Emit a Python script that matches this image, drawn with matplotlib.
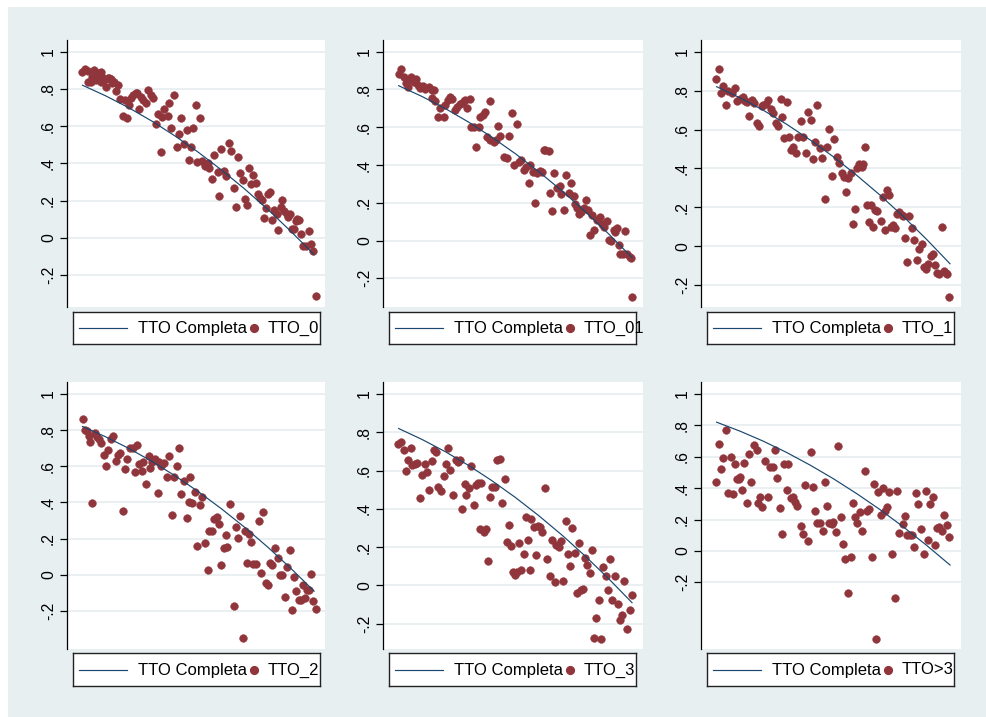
import matplotlib
matplotlib.use("Agg")
import matplotlib.pyplot as plt
from matplotlib.patches import Rectangle
from matplotlib.lines import Line2D

plt.rcParams['font.family'] = ['Liberation Sans', 'DejaVu Sans']

# ---------------- data ----------------
line_label = "TTO Completa"
line_x = [0, 10, 20, 30, 40, 50, 60, 70, 80, 90, 100]
line_y = [0.820, 0.763, 0.699, 0.627, 0.547, 0.460, 0.365, 0.263, 0.153, 0.035, -0.090]

yticks = [-0.2, 0, 0.2, 0.4, 0.6, 0.8, 1]
ytick_labels = ["-.2", "0", ".2", ".4", ".6", ".8", "1"]

series_names = ["TTO_0", "TTO_01", "TTO_1", "TTO_2", "TTO_3", "TTO>3"]

tto0_x = [-0.3, 1.0, 2.4, 3.6, 5.0, 5.8, 6.5, 7.6, 8.6, 10.1, 10.8, 12.2, 13.7, 14.4, 15.4, 16.3, 17.3, 18.3,
          19.4, 20.1, 20.9, 21.6, 23.0, 23.7, 24.5, 25.2, 25.9, 27.3, 28.1, 29.5, 30.6, 31.7, 32.4, 33.8, 34.5,
          35.3, 36.7, 37.4, 38.4, 39.6, 40.7, 41.7, 42.7, 43.9, 45.0, 46.0, 46.8, 47.5, 48.8, 49.6, 50.8, 51.8,
          52.8, 54.0, 54.7, 55.7, 56.8, 58.3, 59.1, 60.0, 60.9, 61.9, 63.3, 64.3, 65.2, 66.2, 67.2, 68.1, 69.1,
          70.1, 71.2, 71.9, 72.9, 73.8, 74.8, 75.8, 76.7, 77.7, 78.4, 79.1, 79.9, 81.0, 82.0, 82.7, 83.9, 84.5,
          85.6, 86.3, 87.1, 88.2, 88.8, 89.6, 90.6, 91.4, 92.1, 92.8, 93.5, 94.2, 95.4, 96.4, 97.8, 98.8, 99.7,
          100.7, 2.4, 4.3, 6.9, 7.9, 9.4, 11.5, 12.9, 7.9]
tto0_y = [0.889, 0.907, 0.896, 0.839, 0.901, 0.848, 0.884, 0.875, 0.862, 0.812, 0.857, 0.851, 0.839, 0.790,
          0.821, 0.744, 0.656, 0.740, 0.642, 0.713, 0.749, 0.767, 0.780, 0.776, 0.695, 0.758, 0.740, 0.722,
          0.794, 0.767, 0.754, 0.611, 0.668, 0.461, 0.651, 0.695, 0.654, 0.722, 0.588, 0.767, 0.489, 0.557,
          0.642, 0.507, 0.582, 0.421, 0.489, 0.588, 0.715, 0.409, 0.645, 0.414, 0.387, 0.400, 0.373, 0.319,
          0.444, 0.355, 0.224, 0.477, 0.360, 0.333, 0.511, 0.468, 0.269, 0.167, 0.435, 0.346, 0.310, 0.211,
          0.179, 0.376, 0.292, 0.337, 0.296, 0.235, 0.215, 0.206, 0.109, 0.163, 0.238, 0.247, 0.095, 0.149,
          0.129, 0.045, 0.167, 0.203, 0.145, 0.131, 0.113, 0.131, 0.048, 0.050, 0.091, 0.099, 0.095, 0.023,
          -0.043, -0.043, 0.038, -0.034, -0.072, -0.314, 0.839, 0.866, 0.869, 0.892, 0.848, 0.857, 0.830, 0.839]

tto01_x = [0.0, 1.1, 2.1, 3.3, 3.9, 4.7, 5.4, 6.4, 7.6, 8.1, 9.3, 10.4, 11.4, 12.9, 14.3, 15.3, 14.3, 15.7,
           16.7, 17.9, 19.3, 20.0, 21.0, 22.1, 22.9, 24.3, 25.0, 26.1, 27.1, 27.9, 28.6, 29.3, 30.4, 31.1, 32.1,
           33.3, 34.3, 35.0, 36.1, 37.1, 37.9, 39.0, 39.3, 40.7, 41.7, 42.6, 43.6, 45.3, 46.4, 47.4, 48.4, 49.3,
           50.7, 51.4, 52.4, 53.6, 54.7, 55.9, 56.4, 57.6, 58.6, 59.3, 60.4, 61.6, 62.1, 62.9, 64.3, 64.7, 65.7,
           66.7, 67.9, 69.0, 69.7, 70.7, 71.9, 72.9, 73.9, 75.0, 75.7, 76.4, 77.1, 78.1, 79.3, 80.1, 81.0, 82.1,
           82.9, 83.9, 85.0, 86.1, 87.1, 88.1, 89.3, 90.0, 91.1, 92.1, 92.9, 93.6, 94.3, 95.0, 96.1, 97.1, 97.9,
           99.0, 99.7, 100.1]
tto01_y = [0.882, 0.906, 0.864, 0.836, 0.811, 0.853, 0.864, 0.841, 0.857, 0.823, 0.806, 0.818, 0.800, 0.811,
           0.797, 0.797, 0.753, 0.740, 0.652, 0.700, 0.655, 0.717, 0.744, 0.761, 0.747, 0.691, 0.708, 0.723,
           0.726, 0.740, 0.744, 0.700, 0.747, 0.602, 0.602, 0.496, 0.599, 0.655, 0.664, 0.682, 0.549, 0.535,
           0.740, 0.523, 0.532, 0.606, 0.553, 0.443, 0.435, 0.553, 0.677, 0.399, 0.617, 0.417, 0.429, 0.376,
           0.390, 0.306, 0.399, 0.364, 0.200, 0.359, 0.369, 0.364, 0.482, 0.479, 0.475, 0.253, 0.157, 0.359,
           0.276, 0.288, 0.249, 0.164, 0.346, 0.253, 0.306, 0.235, 0.193, 0.170, 0.143, 0.152, 0.170, 0.214,
           0.164, 0.027, 0.134, 0.058, 0.111, 0.122, 0.087, 0.072, 0.104, 0.005, -0.002, 0.055, 0.046, 0.064,
           -0.025, -0.069, -0.069, 0.051, -0.069, -0.087, -0.095, -0.299]

tto1_x = [-0.3, 1.1, 1.9, 2.9, 4.0, 5.0, 6.4, 7.9, 8.9, 10.0, 11.1, 12.1, 13.1, 14.0, 15.0, 16.0, 17.1, 18.0,
          19.3, 20.0, 21.1, 22.1, 23.1, 24.3, 25.3, 26.4, 27.4, 28.0, 28.9, 30.0, 30.9, 31.9, 32.9, 34.0, 35.0,
          36.1, 37.1, 38.1, 39.0, 40.3, 41.1, 42.1, 43.1, 44.3, 45.3, 46.3, 47.4, 48.3, 49.3, 50.3, 51.4, 52.3,
          53.6, 54.6, 55.4, 56.4, 57.4, 58.3, 59.3, 60.3, 61.1, 62.1, 62.9, 63.6, 64.3, 65.1, 66.0, 66.9, 67.9,
          68.9, 70.3, 71.1, 72.3, 72.9, 73.7, 74.7, 75.7, 76.4, 77.4, 78.3, 79.3, 80.0, 80.7, 81.7, 82.6, 83.7,
          84.6, 85.7, 86.6, 87.9, 88.9, 89.7, 90.7, 91.7, 92.6, 93.6, 94.6, 95.4, 96.6, 97.4, 98.3, 98.9, 99.7]
tto1_y = [0.859, 0.911, 0.786, 0.823, 0.724, 0.799, 0.786, 0.811, 0.748, 0.755, 0.765, 0.748, 0.743, 0.671,
          0.751, 0.738, 0.635, 0.617, 0.720, 0.726, 0.731, 0.751, 0.708, 0.683, 0.631, 0.617, 0.755, 0.666,
          0.554, 0.743, 0.563, 0.497, 0.511, 0.477, 0.563, 0.645, 0.559, 0.477, 0.691, 0.648, 0.451, 0.537,
          0.726, 0.503, 0.456, 0.245, 0.508, 0.605, 0.360, 0.549, 0.460, 0.429, 0.377, 0.357, 0.280, 0.353,
          0.374, 0.113, 0.190, 0.400, 0.425, 0.408, 0.422, 0.511, 0.214, 0.125, 0.211, 0.099, 0.189, 0.182,
          0.130, 0.254, 0.082, 0.288, 0.266, 0.099, 0.108, 0.094, 0.168, 0.175, 0.161, 0.156, 0.045, -0.081,
          0.154, 0.094, 0.034, -0.069, -0.012, 0.014, -0.106, -0.115, -0.089, -0.051, -0.038, -0.094, -0.136,
          -0.141, 0.099, -0.127, -0.137, -0.144, -0.261]

tto2_x = [0.0, 1.0, 1.9, 2.9, 3.3, 4.3, 5.5, 6.2, 7.2, 7.9, 9.1, 10.2, 11.1, 12.2, 13.1, 14.4, 15.4, 16.3,
          17.4, 18.4, 19.4, 20.6, 21.6, 22.6, 23.7, 24.5, 25.5, 26.3, 27.3, 28.5, 29.2, 30.2, 31.2, 32.4, 33.1,
          34.1, 35.3, 36.4, 37.4, 38.7, 39.6, 40.7, 41.7, 42.7, 43.9, 44.9, 45.8, 46.5, 47.1, 48.5, 49.6, 50.8,
          51.8, 52.8, 54.0, 54.7, 55.7, 56.8, 58.0, 59.0, 60.0, 60.9, 61.9, 62.6, 63.7, 65.2, 66.2, 67.2, 68.1,
          69.1, 70.1, 71.2, 71.9, 72.9, 73.8, 74.8, 76.3, 77.0, 78.1, 79.1, 80.1, 81.0, 82.0, 83.0, 84.5, 85.3,
          86.3, 87.3, 88.2, 89.4, 90.5, 91.4, 92.2, 93.4, 94.2, 95.1, 96.0, 96.8, 97.8, 98.6, 99.6, 100.6]
tto2_y = [0.860, 0.803, 0.796, 0.767, 0.733, 0.395, 0.785, 0.763, 0.750, 0.730, 0.662, 0.601, 0.689, 0.750,
          0.768, 0.631, 0.665, 0.671, 0.353, 0.583, 0.642, 0.699, 0.699, 0.570, 0.715, 0.610, 0.575, 0.625,
          0.504, 0.658, 0.588, 0.625, 0.638, 0.450, 0.625, 0.601, 0.619, 0.539, 0.658, 0.329, 0.542, 0.601,
          0.702, 0.445, 0.518, 0.314, 0.404, 0.539, 0.395, 0.458, 0.160, 0.384, 0.428, 0.176, 0.024, 0.244,
          0.244, 0.311, 0.322, 0.281, 0.055, 0.147, 0.221, 0.153, 0.392, -0.175, 0.267, 0.206, 0.327, -0.351,
          0.243, 0.068, 0.224, 0.180, 0.061, 0.059, 0.296, 0.009, 0.347, -0.046, -0.055, 0.064, 0.053, 0.151,
          0.092, 0.000, 0.000, -0.123, 0.046, 0.138, -0.193, -0.013, -0.092, -0.138, -0.138, -0.055, -0.129,
          -0.083, -0.083, 0.006, -0.142, -0.189]

tto3_x = [-0.3, 1.1, 2.1, 3.0, 4.0, 5.1, 5.9, 6.9, 7.9, 9.0, 10.1, 11.1, 12.1, 13.0, 14.1, 15.0, 15.9, 16.9,
          18.3, 19.3, 20.1, 21.1, 22.1, 23.3, 24.4, 25.4, 26.4, 27.3, 28.3, 29.0, 30.1, 31.1, 32.1, 33.0, 34.0,
          34.7, 35.4, 36.4, 37.3, 38.3, 39.3, 40.1, 41.1, 42.1, 43.6, 44.4, 45.6, 46.4, 47.3, 48.3, 49.0, 49.9,
          50.7, 51.6, 52.6, 53.6, 54.4, 55.6, 56.1, 56.9, 58.0, 59.0, 59.7, 60.7, 61.6, 62.7, 63.7, 64.7, 65.6,
          66.9, 67.6, 68.7, 69.6, 70.4, 71.6, 72.7, 73.6, 74.4, 75.4, 76.4, 77.3, 78.3, 79.0, 79.9, 80.9, 81.9,
          82.9, 83.6, 84.7, 85.9, 86.9, 87.6, 88.7, 89.7, 90.7, 91.6, 92.7, 93.9, 94.7, 95.6, 96.6, 97.9, 99.0,
          99.9]
tto3_y = [0.741, 0.748, 0.707, 0.597, 0.655, 0.719, 0.628, 0.634, 0.641, 0.457, 0.576, 0.634, 0.594, 0.498,
          0.651, 0.707, 0.698, 0.516, 0.493, 0.571, 0.634, 0.720, 0.602, 0.472, 0.655, 0.646, 0.658, 0.398,
          0.530, 0.472, 0.510, 0.623, 0.420, 0.524, 0.533, 0.293, 0.536, 0.281, 0.293, 0.130, 0.460, 0.512,
          0.512, 0.658, 0.663, 0.429, 0.556, 0.226, 0.316, 0.208, 0.068, 0.056, 0.068, 0.224, 0.082, 0.165,
          0.359, 0.238, 0.082, 0.345, 0.307, 0.160, 0.311, 0.307, 0.281, 0.507, 0.139, 0.050, 0.238, 0.016,
          0.212, 0.200, 0.233, 0.021, 0.339, 0.163, 0.102, 0.299, 0.172, -0.040, 0.224, -0.023, -0.019, 0.142,
          0.108, 0.064, 0.186, -0.274, -0.170, -0.075, -0.280, 0.094, 0.050, -0.026, 0.139, -0.075, 0.050,
          -0.097, -0.182, -0.156, 0.021, -0.227, -0.127, -0.049]

tto4_x = [-0.3, 0.9, 1.9, 2.9, 3.9, 4.9, 6.0, 6.9, 7.7, 8.6, 9.4, 10.0, 10.9, 11.7, 12.9, 13.9, 14.9, 16.1,
          17.1, 17.9, 18.6, 19.4, 20.7, 22.1, 22.9, 24.0, 25.0, 26.0, 27.1, 28.0, 28.9, 30.0, 30.7, 31.7, 32.6,
          33.4, 34.6, 36.0, 37.1, 38.0, 39.1, 40.3, 41.4, 42.3, 43.1, 44.3, 45.4, 46.3, 47.4, 48.3, 49.3, 50.0,
          51.1, 52.1, 53.4, 54.3, 55.1, 56.4, 57.4, 58.3, 59.3, 60.3, 61.4, 62.4, 63.4, 64.3, 65.4, 66.4, 67.4,
          68.3, 69.1, 70.3, 71.4, 72.3, 73.0, 74.0, 75.3, 76.4, 77.4, 78.3, 79.7, 80.7, 81.7, 82.9, 83.7, 84.6,
          85.4, 86.4, 87.6, 88.7, 89.6, 90.6, 91.4, 92.6, 93.7, 94.6, 95.4, 96.6, 97.4, 98.9, 99.7]
tto4_y = [0.439, 0.684, 0.519, 0.589, 0.773, 0.367, 0.600, 0.362, 0.553, 0.456, 0.460, 0.468, 0.388, 0.557,
          0.303, 0.617, 0.441, 0.674, 0.642, 0.303, 0.341, 0.282, 0.574, 0.341, 0.532, 0.536, 0.642, 0.462,
          0.275, 0.106, 0.551, 0.388, 0.551, 0.335, 0.345, 0.311, 0.288, 0.159, 0.108, 0.419, 0.066, 0.631,
          0.409, 0.256, 0.176, 0.176, 0.129, 0.441, 0.288, 0.176, 0.169, 0.186, 0.123, 0.667, 0.214, 0.044,
          -0.051, -0.269, -0.040, 0.307, 0.218, 0.176, 0.246, 0.125, 0.506, 0.256, 0.267, -0.036, 0.426,
          -0.559, 0.377, 0.229, 0.403, 0.256, 0.282, 0.375, -0.021, -0.301, 0.381, 0.112, 0.172, 0.222, 0.102,
          0.102, 0.102, 0.028, 0.367, 0.299, 0.138, -0.021, 0.381, 0.070, 0.299, 0.341, 0.038, 0.144, 0.155,
          0.129, 0.229, 0.165, 0.091]

series_x = [tto0_x, tto01_x, tto1_x, tto2_x, tto3_x, tto4_x]
series_y = [tto0_y, tto01_y, tto1_y, tto2_y, tto3_y, tto4_y]
ylims = [(-0.371, 1.063), (-0.352, 1.062), (-0.312, 1.060),
         (-0.410, 1.066), (-0.332, 1.063), (-0.625, 1.076)]

# ---------------- styling ----------------
W, H = 986, 717
BG = "#E8EFF1"
GRID = "#E4ECEE"
MAROON = "#90353B"
NAVY = "#1A476F"

fig = plt.figure(figsize=(W / 100, H / 100), dpi=100)
fig.patch.set_facecolor("white")
fig.patches.append(Rectangle((8 / W, 0), 1 - 8 / W, 1 - 7 / H, transform=fig.transFigure,
                             facecolor=BG, edgecolor="none", zorder=-10))

def fbox(x0, y0, x1, y1):
    return [x0 / W, 1 - y1 / H, (x1 - x0) / W, (y1 - y0) / H]

col_x = [(67, 325), (383, 643), (701, 961)]
row_y = [(40, 307), (382, 649)]
leg_x = [(73, 320), (389, 636), (707, 954)]
leg_y = [(312, 344), (653, 686)]

for i, name in enumerate(series_names):
    r, c = divmod(i, 3)
    x0, x1 = col_x[c]
    y0, y1 = row_y[r]
    ax = fig.add_axes(fbox(x0, y0, x1, y1))
    ax.set_facecolor("white")
    for s in ["top", "right", "bottom"]:
        ax.spines[s].set_visible(False)
    ax.spines["left"].set_color("black")
    ax.spines["left"].set_linewidth(0.9)
    ax.set_xlim(-6.7, 104.7)
    ax.set_ylim(*ylims[i])
    ax.set_xticks([])
    ax.set_yticks(yticks)
    ax.set_yticklabels(ytick_labels)
    ax.tick_params(axis="y", direction="out", length=5, width=0.9, pad=3,
                   labelsize=11.3, labelrotation=90, colors="black")
    for lab in ax.get_yticklabels():
        lab.set_va("center")
    ax.grid(axis="y", color=GRID, linewidth=1.1)
    ax.set_axisbelow(True)
    ax.plot(line_x, line_y, color=NAVY, linewidth=0.85, zorder=3)
    ax.plot(series_x[i], series_y[i], linestyle="none", marker="o", markersize=5.6,
            markerfacecolor=MAROON, markeredgecolor=MAROON, markeredgewidth=0.3, zorder=2)

    # legend box
    lx0, lx1 = leg_x[c]
    ly0, ly1 = leg_y[r]
    lax = fig.add_axes(fbox(lx0, ly0, lx1, ly1))
    lw_px = lx1 - lx0
    lax.set_xlim(0, lw_px)
    lax.set_ylim(0, ly1 - ly0)
    lax.set_xticks([])
    lax.set_yticks([])
    lax.set_facecolor("white")
    for s in lax.spines.values():
        s.set_color("#222222")
        s.set_linewidth(1.0)
    mid = (ly1 - ly0) / 2
    lax.add_line(Line2D([6, 54], [mid, mid], color=NAVY, linewidth=0.85))
    lax.text(65, mid - 0.5, line_label, fontsize=12, va="center", ha="left", clip_on=False)
    lax.plot([181], [mid], marker="o", markersize=5.6, color=MAROON, clip_on=False)
    lax.text(195, mid - 0.5, name, fontsize=12, va="center", ha="left", clip_on=False, zorder=5)

fig.savefig("out.png", dpi=100, facecolor=fig.get_facecolor())
